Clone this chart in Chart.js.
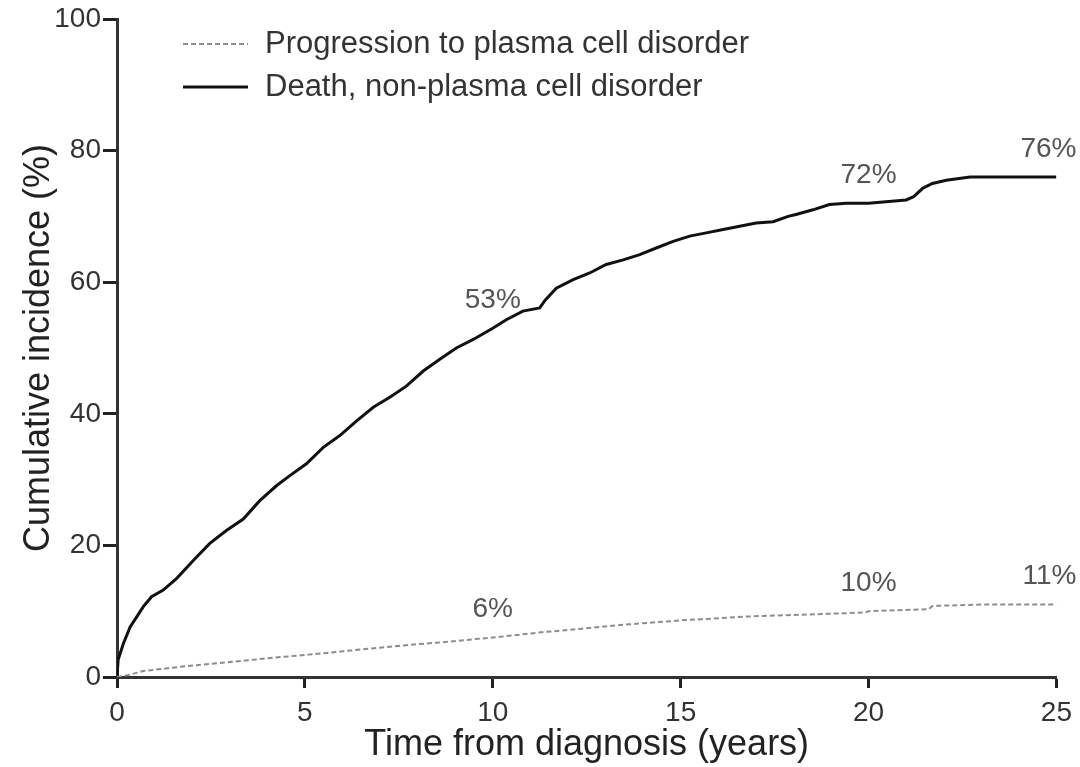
<!DOCTYPE html>
<html>
<head>
<meta charset="utf-8">
<title>Cumulative incidence</title>
<script src="https://cdn.jsdelivr.net/npm/chart.js@4.4.1/dist/chart.umd.min.js"></script>
<style>
    html, body { margin: 0; padding: 0; background: #fff; }
    #wrap { width: 1080px; height: 767px; }
</style>
</head>
<body>
<div id="wrap"><canvas id="incidenceChart" width="1080" height="767"></canvas></div>
<script>
// Progression to plasma cell disorder (years from diagnosis, cumulative %)
const progYears = [0, 0.3, 0.7, 1.6, 2.5, 3.4, 4.3, 5.1, 6.0, 6.9, 7.8, 8.7, 9.6, 10, 10.5, 11.3, 12.3, 13.6, 15.0, 16.8, 18.9, 19.9, 20, 21.6, 21.7, 23, 25];
const progPct = [0, 0.3, 0.9, 1.5, 2.0, 2.5, 3.0, 3.4, 3.9, 4.4, 4.9, 5.3, 5.8, 6.0, 6.3, 6.8, 7.3, 8.0, 8.6, 9.2, 9.6, 9.8, 10.0, 10.3, 10.8, 11.0, 11.0];

// Death from causes other than a plasma cell disorder
const deathYears = [0, 0.03, 0.17, 0.35, 0.52, 0.7, 0.92, 1.23, 1.59, 2.03, 2.47, 2.92, 3.36, 3.8, 4.25, 4.6, 5.04, 5.49, 5.93, 6.37, 6.82, 7.26, 7.7, 8.15, 8.59, 9.03, 9.48, 10, 10.36, 10.8, 11.25, 11.4, 11.69, 12.14, 12.58, 13.02, 13.47, 13.91, 14.35, 14.8, 15.24, 15.68, 16.13, 16.57, 17.01, 17.46, 17.86, 18.07, 18.52, 18.96, 19.41, 20, 21, 21.2, 21.45, 21.7, 22.07, 22.7, 25];
const deathPct = [0, 2.6, 5.1, 7.6, 9.1, 10.7, 12.2, 13.2, 15.0, 17.7, 20.3, 22.3, 24.0, 26.8, 29.1, 30.6, 32.4, 34.9, 36.7, 38.9, 41.0, 42.5, 44.2, 46.5, 48.3, 50.0, 51.3, 53.0, 54.3, 55.6, 56.1, 57.3, 59.1, 60.4, 61.4, 62.7, 63.4, 64.2, 65.2, 66.2, 67.0, 67.5, 68.0, 68.5, 69.0, 69.2, 70.0, 70.3, 71.0, 71.8, 72.0, 72.0, 72.5, 73.0, 74.3, 75.0, 75.5, 76.0, 76.0];

// years at which the curves get a percentage annotation
const labelYears = [10, 20, 25];

const xTicks = [0, 5, 10, 15, 20, 25];
const yTicks = [0, 20, 40, 60, 80, 100];

const FONT = '"Liberation Sans", Arial, Helvetica, sans-serif';

function toPoints(xs, ys) {
    return xs.map((x, i) => ({ x: x, y: ys[i] }));
}

// legend drawn inside the plot, top left
const insideLegend = {
    id: 'insideLegend',
    afterDraw(chart) {
        const ctx = chart.ctx;
        ctx.save();
        chart.data.datasets.forEach((ds, i) => {
            const y = 44 + i * 43;
            ctx.beginPath();
            ctx.strokeStyle = ds.borderColor;
            ctx.lineWidth = ds.borderWidth;
            ctx.setLineDash(ds.borderDash || []);
            ctx.moveTo(183, y);
            ctx.lineTo(248, y);
            ctx.stroke();
            ctx.setLineDash([]);
            ctx.fillStyle = '#333';
            ctx.font = '31px ' + FONT;
            ctx.textBaseline = 'middle';
            ctx.textAlign = 'left';
            ctx.fillText(ds.label, 265, y);
        });
        ctx.restore();
    }
};

// percentage labels above each curve
const curveLabels = {
    id: 'curveLabels',
    afterDatasetsDraw(chart) {
        const { ctx, scales: { x, y } } = chart;
        ctx.save();
        ctx.font = '28px ' + FONT;
        ctx.fillStyle = '#555';
        ctx.textBaseline = 'middle';
        chart.data.datasets.forEach(ds => {
            labelYears.forEach(yr => {
                const pt = ds.data.find(p => p.x === yr);
                if (!pt) return;
                let px = x.getPixelForValue(pt.x);
                const py = y.getPixelForValue(pt.y) - 28;
                ctx.textAlign = 'center';
                if (yr === x.max) {
                    ctx.textAlign = 'right';
                    px += 20;
                }
                ctx.fillText(Math.round(pt.y) + '%', px, py);
            });
        });
        ctx.restore();
    }
};

const ctx = document.getElementById('incidenceChart').getContext('2d');
new Chart(ctx, {
    type: 'line',
    data: {
        datasets: [
            {
                label: 'Progression to plasma cell disorder',
                data: toPoints(progYears, progPct),
                borderColor: '#8c8c8c',
                borderWidth: 2,
                borderDash: [5, 3],
                pointRadius: 0,
                tension: 0,
            },
            {
                label: 'Death, non-plasma cell disorder',
                data: toPoints(deathYears, deathPct),
                borderColor: '#111',
                borderWidth: 3,
                pointRadius: 0,
                tension: 0,
            },
        ],
    },
    options: {
        responsive: false,
        animation: false,
        layout: { padding: { top: 19, right: 22, left: 0, bottom: 0 } },
        plugins: {
            legend: { display: false },
            tooltip: { enabled: false },
        },
        scales: {
            x: {
                type: 'linear',
                min: 0,
                max: 25,
                afterBuildTicks: (scale) => { scale.ticks = xTicks.map(v => ({ value: v })); },
                afterFit: (scale) => { scale.height = 90; },
                border: { display: true, color: '#333', width: 3 },
                grid: { display: true, drawOnChartArea: false, drawTicks: true, tickLength: 11, tickWidth: 3, tickColor: '#222' },
                ticks: { color: '#333', font: { family: FONT, size: 28 }, padding: 8, maxRotation: 0 },
                title: {
                    display: true,
                    text: 'Time from diagnosis (years)',
                    color: '#222',
                    font: { family: FONT, size: 36 },
                    padding: { top: 0, bottom: 0 },
                },
            },
            y: {
                min: 0,
                max: 100,
                afterBuildTicks: (scale) => { scale.ticks = yTicks.map(v => ({ value: v })); },
                afterFit: (scale) => { scale.width = 117; },
                border: { display: true, color: '#333', width: 3 },
                grid: { display: true, drawOnChartArea: false, drawTicks: true, tickLength: 14, tickWidth: 3, tickColor: '#222' },
                ticks: { color: '#333', font: { family: FONT, size: 28 }, padding: 2 },
                title: {
                    display: true,
                    text: 'Cumulative incidence (%)',
                    color: '#222',
                    font: { family: FONT, size: 36 },
                    padding: { top: 17, bottom: 0 },
                },
            },
        },
    },
    plugins: [insideLegend, curveLabels],
});
</script>
</body>
</html>
